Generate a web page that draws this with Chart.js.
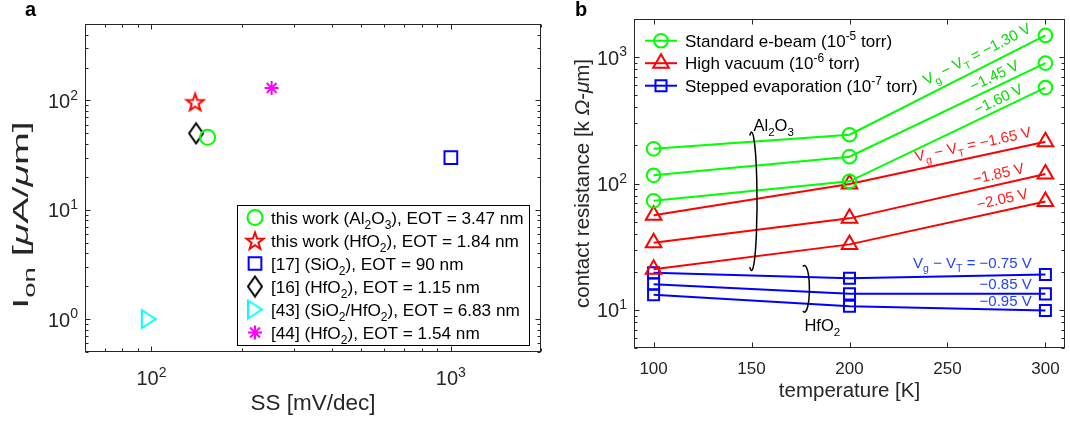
<!DOCTYPE html>
<html>
<head>
<meta charset="utf-8">
<script src="https://cdn.jsdelivr.net/npm/chart.js@4.4.1/dist/chart.umd.min.js"></script>
<style>
  body { margin: 0; background: #fff; }
  #wrap { position: relative; width: 1070px; height: 421px; }
  canvas { position: absolute; top: 0; }
</style>
</head>
<body>
<div id="wrap">
  <canvas id="ionChart" width="550" height="421" style="left:0"></canvas>
  <canvas id="rcChart" width="520" height="421" style="left:550px"></canvas>
</div>
<script>
// ---- panel a: on-current vs subthreshold swing ----
const refLabels = [
  'this work (Al_2O_3), EOT = 3.47 nm',
  'this work (HfO_2), EOT = 1.84 nm',
  '[17] (SiO_2), EOT = 90 nm',
  '[16] (HfO_2), EOT = 1.15 nm',
  '[43] (SiO_2/HfO_2), EOT = 6.83 nm',
  '[44] (HfO_2), EOT = 1.54 nm'
];
const ssValues = [154, 140, 1000, 141, 98, 252];
const ionValues = [46, 97, 30, 50, 1.0, 130];
const ssTicks = [100, 1000];
const ionTicks = [1, 10, 100];

// ---- panel b: contact resistance vs temperature ----
const temps = [100, 200, 300];
const ebeamRc = [[188, 243, 1483], [116, 163, 896], [73, 104, 574]];
const hvacRc = [[56, 99, 214], [34, 53, 119], [21, 33, 72]];
const steppedRc = [[19.7, 17.8, 19.1], [16, 13.4, 13.4], [13.2, 10.7, 9.9]];
const ebeamVg = ['V_g − V_T = −1.30 V', '−1.45 V', '−1.60 V'];
const hvacVg = ['V_g − V_T = −1.65 V', '−1.85 V', '−2.05 V'];
const steppedVg = ['V_g − V_T = −0.75 V', '−0.85 V', '−0.95 V'];
const processLabels = [
  'Standard e-beam (10^{-5} torr)',
  'High vacuum (10^{-6} torr)',
  'Stepped evaporation (10^{-7} torr)'
];
const tempTicks = [100, 150, 200, 250, 300];
const rcTicks = [10, 100, 1000];

const FONT = '"Liberation Sans", Arial, Helvetica, sans-serif';
const AXIS = '#262626';
const GREEN = '#00ff00', RED = '#ff0000', BLUE = '#0000ff';
const NONE = 'rgba(0,0,0,0)';

// tiny TeX-ish text: _x / _{..} subscripts, ^x / ^{..} superscripts, \mu \Omega
const greek = { mu: 'μ', Omega: 'Ω' };
function texSegments(str) {
  const segs = [];
  let buf = '', i = 0;
  const push = (t, mode, italic) => { if (t) segs.push({ t, mode, italic }); };
  while (i < str.length) {
    const c = str[i];
    if (c === '_' || c === '^') {
      push(buf, 0); buf = '';
      let t;
      if (str[i + 1] === '{') {
        const j = str.indexOf('}', i);
        t = str.slice(i + 2, j); i = j + 1;
      } else { t = str[i + 1]; i += 2; }
      push(t, c === '_' ? 1 : 2);
    } else if (c === '\\') {
      push(buf, 0); buf = '';
      const m = str.slice(i).match(/^\\([A-Za-z]+)/);
      push(greek[m[1]], 0, true);
      i += m[0].length;
      if (str[i] === ' ') i++;
    } else { buf += c; i++; }
  }
  push(buf, 0);
  return segs;
}
function segFont(s, size) {
  return (s.italic ? 'italic ' : '') + (s.mode ? size * 0.7 : size) + 'px ' + FONT;
}
function drawTex(ctx, str, x, y, size, align) {
  const segs = texSegments(str);
  let w = 0;
  segs.forEach(s => { ctx.font = segFont(s, size); w += ctx.measureText(s.t).width; });
  let cx = align === 'center' ? x - w / 2 : align === 'right' ? x - w : x;
  ctx.textAlign = 'left';
  ctx.textBaseline = 'alphabetic';
  segs.forEach(s => {
    ctx.font = segFont(s, size);
    const dy = s.mode === 1 ? size * 0.3 : s.mode === 2 ? -size * 0.42 : 0;
    ctx.fillText(s.t, cx, y + dy);
    cx += ctx.measureText(s.t).width;
  });
  return w;
}

function logMinors(min, max) {
  const out = [];
  for (let d = Math.floor(Math.log10(min)); d <= Math.ceil(Math.log10(max)); d++) {
    for (let k = 2; k <= 9; k++) {
      const v = k * Math.pow(10, d);
      if (v >= min * 0.999 && v <= max * 1.001) out.push(v);
    }
  }
  return out;
}
const decade = v => '10^{' + Math.round(Math.log10(v)) + '}';

// matlab-like box with inward ticks on all four sides
function framePlugin(cfg) {
  return {
    id: 'frame',
    afterDatasetsDraw(chart) {
      const { ctx, chartArea: a, scales: { x, y } } = chart;
      ctx.save();
      ctx.strokeStyle = AXIS;
      ctx.lineWidth = 1;
      const L = Math.round(a.left) + 0.5, R = Math.round(a.right) - 0.5;
      const T = Math.round(a.top) + 0.5, B = Math.round(a.bottom) - 0.5;
      ctx.beginPath();
      const xt = (v, len) => {
        const px = Math.round(x.getPixelForValue(v)) + 0.5;
        ctx.moveTo(px, B); ctx.lineTo(px, B - len);
        ctx.moveTo(px, T); ctx.lineTo(px, T + len);
      };
      const yt = (v, len) => {
        const py = Math.round(y.getPixelForValue(v)) + 0.5;
        ctx.moveTo(L, py); ctx.lineTo(L + len, py);
        ctx.moveTo(R, py); ctx.lineTo(R - len, py);
      };
      cfg.xMajor.forEach(v => xt(v, 5));
      cfg.xMinor.forEach(v => xt(v, 3));
      cfg.yMajor.forEach(v => yt(v, 5));
      cfg.yMinor.forEach(v => yt(v, 3));
      ctx.stroke();
      ctx.strokeRect(L, T, R - L, B - T);

      ctx.fillStyle = AXIS;
      cfg.xMajor.forEach(v => {
        drawTex(ctx, cfg.xFmt(v), x.getPixelForValue(v), a.bottom + cfg.xLabelDy, cfg.xSize, 'center');
      });
      cfg.yMajor.forEach(v => {
        drawTex(ctx, cfg.yFmt(v), a.left - 7, y.getPixelForValue(v) + 7.5, cfg.ySize, 'right');
      });
      drawTex(ctx, cfg.xTitle, (a.left + a.right) / 2, a.bottom + cfg.xTitleDy, cfg.titleSize, 'center');
      ctx.save();
      ctx.translate(cfg.yTitleX, (a.top + a.bottom) / 2 + cfg.yTitleShift);
      ctx.rotate(-Math.PI / 2);
      ctx.scale(cfg.yTitleStretch, 1);
      drawTex(ctx, cfg.yTitle, 0, 0, cfg.titleSize, 'center');
      ctx.restore();
      ctx.fillStyle = '#000';
      ctx.font = 'bold 20px ' + FONT;
      ctx.textAlign = 'left';
      ctx.fillText(cfg.panel, 25, 16);
      ctx.restore();
    }
  };
}

// custom marker shapes
function marker(w, h, color, path) {
  const c = document.createElement('canvas');
  c.width = w + 4; c.height = h + 4;
  const g = c.getContext('2d');
  g.strokeStyle = color; g.lineWidth = 2; g.lineJoin = 'miter';
  g.translate(c.width / 2, c.height / 2);
  g.beginPath(); path(g, w / 2, h / 2); g.closePath(); g.stroke();
  return c;
}
const pentagram = marker(18, 17, RED, (g, rx) => {
  for (let k = 0; k < 10; k++) {
    const r = k % 2 ? rx * 0.4 : rx;
    const t = -Math.PI / 2 + k * Math.PI / 5;
    g.lineTo(r * Math.cos(t), r * Math.sin(t) + 1);
  }
});
const diamond = marker(14, 20, '#000', (g, rx, ry) => {
  g.moveTo(0, -ry); g.lineTo(rx, 0); g.lineTo(0, ry); g.lineTo(-rx, 0);
});
const triRight = marker(14, 18, '#00ffff', (g, rx, ry) => {
  g.moveTo(-rx, -ry); g.lineTo(rx, 0); g.lineTo(-rx, ry);
});

const refStyles = [
  { pointStyle: 'circle', pointRadius: 7.5, color: GREEN },
  { pointStyle: pentagram, pointRadius: 8, color: RED },
  { pointStyle: 'rect', pointRadius: 9, color: BLUE },
  { pointStyle: diamond, pointRadius: 8, color: '#000' },
  { pointStyle: triRight, pointRadius: 8, color: '#00ffff' },
  { pointStyle: 'star', pointRadius: 7, color: '#ff00ff' }
];

function legendMarker(ctx, ds, x, y) {
  ctx.strokeStyle = ds.pointBorderColor;
  ctx.fillStyle = NONE;
  ctx.lineWidth = ds.pointBorderWidth;
  Chart.helpers.drawPoint(ctx, {
    pointStyle: ds.pointStyle, radius: ds.pointRadius, rotation: 0, borderWidth: ds.pointBorderWidth
  }, x, y);
}

const ionLegend = {
  id: 'ionLegend',
  afterDraw(chart) {
    const ctx = chart.ctx;
    const bx = 237, by = 205, bw = 292, bh = 140;
    ctx.save();
    ctx.fillStyle = '#fff';
    ctx.fillRect(bx, by, bw, bh);
    ctx.strokeStyle = '#000';
    ctx.lineWidth = 1;
    ctx.strokeRect(bx + 0.5, by + 0.5, bw, bh);
    chart.data.datasets.forEach((ds, i) => {
      const cy = by + 12.5 + i * 23;
      legendMarker(ctx, ds, 255, cy);
      ctx.fillStyle = '#000';
      drawTex(ctx, ds.label, 271, cy + 6, 17.2, 'left');
    });
    ctx.restore();
  }
};

new Chart(document.getElementById('ionChart'), {
  type: 'scatter',
  data: {
    datasets: refLabels.map((label, i) => ({
      label,
      data: [{ x: ssValues[i], y: ionValues[i] }],
      pointStyle: refStyles[i].pointStyle,
      pointRadius: refStyles[i].pointRadius,
      pointBorderColor: refStyles[i].color,
      borderColor: refStyles[i].color,
      pointBackgroundColor: NONE,
      pointBorderWidth: 2
    }))
  },
  options: {
    responsive: false,
    animation: false,
    layout: { autoPadding: false, padding: { left: 85, top: 24, right: 9, bottom: 69 } },
    scales: {
      x: { type: 'logarithmic', min: 60, max: 2000, display: false },
      y: { type: 'logarithmic', min: 0.5, max: 500, display: false }
    },
    plugins: { legend: { display: false }, tooltip: { enabled: false } }
  },
  plugins: [framePlugin({
    panel: 'a',
    xMajor: ssTicks, xMinor: logMinors(60, 2000),
    yMajor: ionTicks, yMinor: logMinors(0.5, 500),
    xFmt: decade, yFmt: decade, xSize: 20, ySize: 20, xLabelDy: 33,
    titleSize: 22.5,
    xTitle: 'SS [mV/dec]', xTitleDy: 58,
    yTitle: 'I_{on} [\\mu A/\\mu m]', yTitleX: 28, yTitleShift: 27, yTitleStretch: 1.75
  }), ionLegend]
});

// ---- panel b ----
const groups = [
  { rows: ebeamRc, notes: ebeamVg, color: GREEN, pointStyle: 'circle', pointRadius: 6.8 },
  { rows: hvacRc, notes: hvacVg, color: RED, pointStyle: 'triangle', pointRadius: 9 },
  { rows: steppedRc, notes: steppedVg, color: BLUE, pointStyle: 'rect', pointRadius: 7.8 }
];
const rcDatasets = [];
groups.forEach((g, gi) => g.rows.forEach((row, ri) => rcDatasets.push({
  label: processLabels[gi],
  note: g.notes[ri],
  group: gi,
  data: temps.map((t, k) => ({ x: t, y: row[k] })),
  borderColor: g.color,
  borderWidth: 2,
  pointStyle: g.pointStyle,
  pointRadius: g.pointRadius,
  pointBorderColor: g.color,
  pointBackgroundColor: NONE,
  pointBorderWidth: 2,
  tension: 0,
  fill: false
})));

// where each Vg-VT note sits on the 200-300 K segment (fraction along, px above line)
const notePlace = [
  [[0.65, 16], [0.74, 12], [0.76, 11]],
  [[0.63, 13], [0.76, 11], [0.78, 12]],
  [[0.93, 12], [0.93, 10], [0.93, 9.5]]
];
const noteColors = ['#00e000', '#ff1a1a', '#2244ff'];

const rcNotes = {
  id: 'rcNotes',
  afterDraw(chart) {
    const { ctx, scales: { x, y } } = chart;
    ctx.save();
    chart.data.datasets.forEach((ds, i) => {
      const pts = chart.getDatasetMeta(i).data;
      const p1 = pts[1], p2 = pts[2];
      const [f, dy] = notePlace[ds.group][i % 3];
      const cx = p1.x + f * (p2.x - p1.x);
      const cy = p1.y + f * (p2.y - p1.y) - dy;
      ctx.fillStyle = noteColors[ds.group];
      if (ds.group === 2) {
        drawTex(ctx, ds.note, cx, cy + 5, 15, 'right');
      } else {
        ctx.save();
        ctx.translate(cx, cy);
        ctx.rotate(Math.atan2(p2.y - p1.y, p2.x - p1.x));
        drawTex(ctx, ds.note, 0, 5, 15, 'center');
        ctx.restore();
      }
    });

    // oxide brackets
    ctx.strokeStyle = '#000';
    ctx.lineWidth = 1.5;
    const bracket = (t, top, bot, rx) => {
      const px = x.getPixelForValue(t);
      const y1 = y.getPixelForValue(top), y2 = y.getPixelForValue(bot);
      ctx.beginPath();
      ctx.ellipse(px, (y1 + y2) / 2, rx, (y2 - y1) / 2, 0, -0.6 * Math.PI, 0.6 * Math.PI);
      ctx.stroke();
    };
    bracket(150, 255, 20.5, 5.5);
    bracket(177, 22.5, 9.6, 5);
    ctx.fillStyle = '#000';
    drawTex(ctx, 'Al_2O_3', x.getPixelForValue(151), y.getPixelForValue(258), 16.5, 'left');
    drawTex(ctx, 'HfO_2', x.getPixelForValue(177), y.getPixelForValue(6.8), 16.5, 'left');

    // legend (no box)
    groups.forEach((g, gi) => {
      const ds = rcDatasets[gi * 3];
      const cy = 40.7 + gi * 22.5;
      ctx.strokeStyle = g.color;
      ctx.lineWidth = 2;
      ctx.beginPath(); ctx.moveTo(95, cy); ctx.lineTo(127, cy); ctx.stroke();
      legendMarker(ctx, ds, 111, cy);
      ctx.fillStyle = '#000';
      drawTex(ctx, processLabels[gi], 135, cy + 6, 17, 'left');
    });
    ctx.restore();
  }
};

new Chart(document.getElementById('rcChart'), {
  type: 'line',
  data: { datasets: rcDatasets },
  options: {
    responsive: false,
    animation: false,
    layout: { autoPadding: false, padding: { left: 84, top: 19, right: 5, bottom: 73 } },
    scales: {
      x: { type: 'linear', min: 90, max: 310, display: false },
      y: { type: 'logarithmic', min: 5, max: 2000, display: false }
    },
    plugins: { legend: { display: false }, tooltip: { enabled: false } }
  },
  plugins: [framePlugin({
    panel: 'b',
    xMajor: tempTicks, xMinor: [],
    yMajor: rcTicks, yMinor: logMinors(5, 2000),
    xFmt: v => String(v), yFmt: decade, xSize: 17, ySize: 20, xLabelDy: 25.6,
    titleSize: 20.5,
    xTitle: 'temperature [K]', xTitleDy: 48.5,
    yTitle: 'contact resistance [k \\Omega-\\mu m]', yTitleX: 39, yTitleShift: 0, yTitleStretch: 1
  }), rcNotes]
});
</script>
</body>
</html>
